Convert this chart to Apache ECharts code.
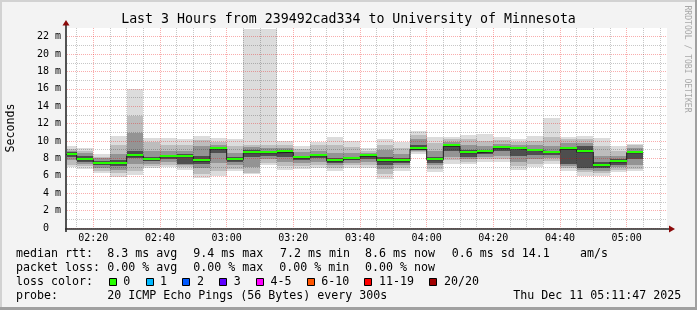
<!DOCTYPE html>
<html><head><meta charset="utf-8">
<script src="https://cdn.jsdelivr.net/npm/echarts@6/dist/echarts.min.js"></script>
<style>html,body{margin:0;padding:0;background:#f3f3f3}#c{width:697px;height:310px}</style>
</head><body><div id="c"></div><script>
// ---- data ----
const startTime = '02:12:06';
const spanMinutes = 180;
const binEnds = ['02:15','02:20','02:25','02:30','02:35','02:40','02:45','02:50','02:55','03:00',
  '03:05','03:10','03:15','03:20','03:25','03:30','03:35','03:40','03:45','03:50','03:55','04:00',
  '04:05','04:10','04:15','04:20','04:25','04:30','04:35','04:40','04:45','04:50','04:55','05:00','05:05'];
const minRtt = [7.0,6.8,6.3,5.85,6.1,6.9,7.0,6.7,5.75,6.0,6.5,6.2,7.2,6.7,6.8,6.9,6.6,6.9,6.9,5.65,6.6,8.5,6.4,7.35,7.35,7.55,7.55,6.7,7.0,7.35,6.6,6.0,6.0,6.4,6.5];
const lo1 = [7.3,7.1,6.6,6.3,6.6,7.1,7.3,7.0,6.2,6.5,6.8,6.3,7.5,7.1,7.1,7.2,6.9,7.2,7.2,6.2,6.9,8.7,6.8,7.8,7.6,7.9,7.9,7.1,7.4,7.7,6.9,6.4,6.3,6.7,6.8];
const lo2 = [7.8,7.4,6.9,6.7,7.4,7.4,7.6,7.3,6.9,7.5,7.2,7.0,7.9,7.6,7.5,7.6,7.3,7.5,7.6,6.8,7.2,8.9,7.2,8.2,7.9,8.2,8.3,7.6,7.9,8.0,7.1,6.7,6.6,7.0,7.3];
const lo3 = [8.2,7.6,7.2,7.1,8.0,7.7,7.9,7.4,7.4,8.6,7.6,8.2,8.3,8.2,7.8,8.0,7.5,7.8,7.9,7.2,7.5,9.0,7.5,8.8,8.2,8.5,8.8,8.3,8.4,8.4,7.4,6.9,6.9,7.3,7.9];
const median = [8.45,7.85,7.4,7.4,8.3,7.85,8.2,8.2,7.7,9.1,7.85,8.65,8.65,8.7,8.05,8.3,7.7,7.95,8.25,7.7,7.7,9.05,7.85,9.4,8.65,8.75,9.2,9.05,8.85,8.65,9.05,8.75,7.15,7.6,8.65];
const hi3 = [8.7,8.3,7.7,7.8,8.9,8.2,8.4,8.5,8.3,9.3,8.2,9.0,8.9,8.9,8.3,8.5,8.1,8.2,8.4,8.2,8.0,9.6,8.2,9.7,9.0,9.0,9.4,9.3,9.1,8.9,9.3,9.4,7.6,7.9,8.9];
const hi2 = [8.9,8.6,8.0,8.5,10.9,8.9,8.8,8.9,9.4,9.6,8.6,9.3,9.2,9.2,8.7,8.9,8.6,8.6,8.6,9.0,8.5,10.2,8.8,9.9,9.6,9.4,9.7,9.6,9.5,9.4,9.8,9.8,8.3,8.3,9.2];
const hi1 = [9.1,8.9,8.2,9.6,12.9,9.9,9.5,9.6,10.1,9.9,9.4,9.6,9.6,9.6,9.1,9.5,9.6,9.3,8.9,9.6,9.2,10.7,9.8,10.2,10.2,10.0,10.1,9.9,10.0,10.5,10.2,10.2,9.4,8.9,9.5];
const maxRtt = [9.4,9.2,8.5,10.6,16.0,10.4,10.4,10.2,10.6,10.4,10.2,22.9,22.9,10.0,9.4,9.9,10.5,10.0,9.2,10.2,9.9,11.1,10.5,10.5,10.7,10.8,10.5,10.2,10.6,12.6,10.5,10.6,10.3,9.4,9.7];
const xMajorLabels = ['02:20','02:40','03:00','03:20','03:40','04:00','04:20','04:40','05:00'];
const xGridTimes = ['02:15','02:20','02:25','02:30','02:35','02:40','02:45','02:50','02:55','03:00',
  '03:05','03:10','03:15','03:20','03:25','03:30','03:35','03:40','03:45','03:50','03:55','04:00',
  '04:05','04:10','04:15','04:20','04:25','04:30','04:35','04:40','04:45','04:50','04:55','05:00','05:05','05:10'];
const yMajorTicks = [0,2,4,6,8,10,12,14,16,18,20,22];
const yMinorTicks = [1,3,5,7,9,11,13,15,17,19,21];
const yMax = 23;
const lossLabels = ['0','1','2','3','4-5','6-10','11-19','20/20'];
const lossColors = ['#26ff00','#00b8ff','#0059ff','#5e00ff','#ff00ff','#ff5500','#ff0000','#a10000'];
const statRtt = ['median rtt:','8.3 ms avg','9.4 ms max','7.2 ms min','8.6 ms now','0.6 ms sd','14.1','am/s'];
const statLoss = ['packet loss:','0.00 % avg','0.00 % max','0.00 % min','0.00 % now'];
const probeText = ['probe:','20 ICMP Echo Pings (56 Bytes) every 300s','Thu Dec 11 05:11:47 2025'];
const titleText = 'Last 3 Hours from 239492cad334 to University of Minnesota';

// ---- helpers ----
function toMin(s){ const p = s.split(':').map(Number); return p[0]*60 + p[1] + (p[2]||0)/60; }
function fmt(v){ const h = Math.floor(v/60+1e-6), m = Math.round(v - h*60); return String(h).padStart(2,'0')+':'+String(m).padStart(2,'0'); }
const xMin = toMin(startTime), xMax = xMin + spanMinutes;
const majorX = xMajorLabels.map(toMin);
const minorX = xGridTimes.map(toMin).filter(v => majorX.indexOf(v) < 0);

const smokeData = binEnds.map((t,i) => {
  const e = toMin(t);
  return [e-5, e, minRtt[i], lo1[i], lo2[i], lo3[i], median[i], hi3[i], hi2[i], hi1[i], maxRtt[i]];
});
const medLine = [];
binEnds.forEach((t,i) => { const e = toMin(t); medLine.push([e-5, median[i]]); medLine.push([e, median[i]]); });

const smokeColors = ['#dcdcdc','#bdbdbd','#949494','#4e4e4e'];

function clip(r, cs){ return echarts.graphic.clipRectByRect(r, {x:cs.x, y:cs.y, width:cs.width, height:cs.height}); }
function renderSmoke(params, api){
  const cs = params.coordSys, kids = [];
  const x0 = api.value(0), x1 = api.value(1);
  for (let k = 0; k < 4; k++){
    const a = api.coord([x0, api.value(10-k)]), b = api.coord([x1, api.value(2+k)]);
    const xa = Math.round(a[0]), xb = Math.round(b[0]), ya = Math.round(a[1]), yb = Math.round(b[1]);
    const r = clip({x:xa, y:ya, width:xb-xa, height:yb-ya}, cs);
    if (r) kids.push({type:'rect', shape:r, style:{fill:smokeColors[k]}});
  }
  return {type:'group', children:kids};
}
function renderMedian(params, api){
  const cs = params.coordSys;
  const a = api.coord([api.value(0), api.value(6)]), b = api.coord([api.value(1), api.value(6)]);
  const xa = Math.round(a[0]), xb = Math.round(b[0]), y = Math.round(a[1]);
  const r = clip({x:xa, y:y-2, width:xb-xa, height:2}, cs);
  return r ? {type:'rect', shape:r, style:{fill:lossColors[0]}} : null;
}

// ---- graphics (frame, texts, legend) ----
const CW = 7.0, FS = 11.63;
const g = [];
g.push({type:'rect', shape:{x:0,y:0,width:697,height:2}, style:{fill:'#d2d2d2'}, silent:true});
g.push({type:'rect', shape:{x:0,y:0,width:2,height:310}, style:{fill:'#d2d2d2'}, silent:true});
g.push({type:'rect', shape:{x:695,y:0,width:2,height:310}, style:{fill:'#a0a0a0'}, silent:true});
g.push({type:'rect', shape:{x:0,y:307,width:697,height:3}, style:{fill:'#a0a0a0'}, silent:true});
function txt(x, y, s, size, extra){
  return Object.assign({type:'text', x:x, y:y, silent:true,
    style:{text:s, fontFamily:'DejaVu Sans Mono', fontSize:size, fill:'#000', align:'left', verticalAlign:'middle'}}, extra||{});
}
g.push(txt(348.5, 19.5, titleText, 13.25, {style:{text:titleText, fontFamily:'DejaVu Sans Mono', fontSize:13.25, fill:'#000', align:'center', verticalAlign:'middle'}}));
g.push(txt(10.5, 128, 'Seconds', FS, {rotation:Math.PI/2, style:{text:'Seconds', fontFamily:'DejaVu Sans Mono', fontSize:FS, fill:'#000', align:'center', verticalAlign:'middle'}}));
g.push(txt(687, 59, 'RRDTOOL / TOBI OETIKER', 8.1, {rotation:-Math.PI/2, style:{text:'RRDTOOL / TOBI OETIKER', fontFamily:'DejaVu Sans Mono', fontSize:8.1, fill:'#a8a8a8', align:'center', verticalAlign:'middle'}}));
// axis lines + arrows
g.push({type:'line', shape:{x1:65,y1:229,x2:670,y2:229}, style:{stroke:'#2a2a2a', lineWidth:1.6}, silent:true, z:20});
g.push({type:'line', shape:{x1:66,y1:232,x2:66,y2:25}, style:{stroke:'#2a2a2a', lineWidth:1.6}, silent:true, z:20});
g.push({type:'polygon', shape:{points:[[669,225.5],[675,229],[669,232.5]]}, style:{fill:'#8b0a0a'}, silent:true, z:20});
g.push({type:'polygon', shape:{points:[[62.5,25.5],[66,20],[69.5,25.5]]}, style:{fill:'#8b0a0a'}, silent:true, z:20});
// legend rows
const rttX = [16,107.3,193.3,280,365,451.7,521.7,580];
statRtt.forEach((s,i) => g.push(txt(rttX[i], 254, s, FS)));
const lossX = [16,107.3,193.3,279.3,365];
statLoss.forEach((s,i) => g.push(txt(lossX[i], 268, s, FS)));
g.push(txt(16, 282, 'loss color:', FS));
let lx = 108.7;
lossLabels.forEach((s,i) => {
  g.push({type:'rect', shape:{x:Math.round(lx)+0.5, y:278.5, width:7, height:7}, style:{fill:lossColors[i], stroke:'#000', lineWidth:1}, silent:true});
  g.push(txt(lx+14.6, 282, s, FS));
  lx = lx + 14.6 + s.length*CW + 15.2;
});
const probeX = [16,107.3,513.3];
probeText.forEach((s,i) => g.push(txt(probeX[i], 296, s, FS)));

const chart = echarts.init(document.getElementById('c'), null, {renderer:'canvas'});
chart.setOption({
  animation:false,
  backgroundColor:'#f3f3f3',
  grid:{left:67, top:28, width:600, height:200, show:true, backgroundColor:'#ffffff', borderWidth:0, containLabel:false},
  xAxis:[
    {type:'value', min:xMin, max:xMax, z:3, axisLine:{show:false},
     axisTick:{show:false, customValues:minorX},
     axisLabel:{customValues:majorX, formatter:fmt, color:'#000', fontFamily:'DejaVu Sans Mono', fontSize:10, margin:5},
     splitLine:{show:true, lineStyle:{color:'rgba(0,0,0,0.22)', width:1, type:[1,1]}}},
    {type:'value', min:xMin, max:xMax, z:3, position:'bottom', axisLine:{show:false},
     axisTick:{show:false, customValues:majorX}, axisLabel:{show:false},
     splitLine:{show:true, lineStyle:{color:'rgba(235,0,0,0.32)', width:1, type:[1,1]}}}
  ],
  yAxis:[
    {type:'value', min:0, max:yMax, z:3, axisLine:{show:false},
     axisTick:{show:false, customValues:yMinorTicks},
     axisLabel:{customValues:yMajorTicks, formatter:v => v === 0 ? '0  ' : v + ' m', color:'#000', fontFamily:'DejaVu Sans Mono', fontSize:10, margin:6},
     splitLine:{show:true, lineStyle:{color:'rgba(0,0,0,0.22)', width:1, type:[1,1]}}},
    {type:'value', min:0, max:yMax, z:3, position:'left', axisLine:{show:false},
     axisTick:{show:false, customValues:yMajorTicks}, axisLabel:{show:false},
     splitLine:{show:true, lineStyle:{color:'rgba(235,0,0,0.32)', width:1, type:[1,1]}}}
  ],
  series:[
    {type:'custom', name:'smoke', xAxisIndex:0, yAxisIndex:0, z:2, renderItem:renderSmoke, data:smokeData,
     encode:{x:[0,1], y:[2,10]}, silent:true},
    {type:'line', name:'median', xAxisIndex:0, yAxisIndex:0, z:4, data:medLine, symbol:'none', clip:true,
     lineStyle:{color:'#1e1e1e', width:1}, silent:true},
    {type:'custom', name:'loss', xAxisIndex:0, yAxisIndex:0, z:5, renderItem:renderMedian, data:smokeData,
     encode:{x:[0,1], y:6}, silent:true}
  ],
  graphic:{elements:g}
});
</script></body></html>
